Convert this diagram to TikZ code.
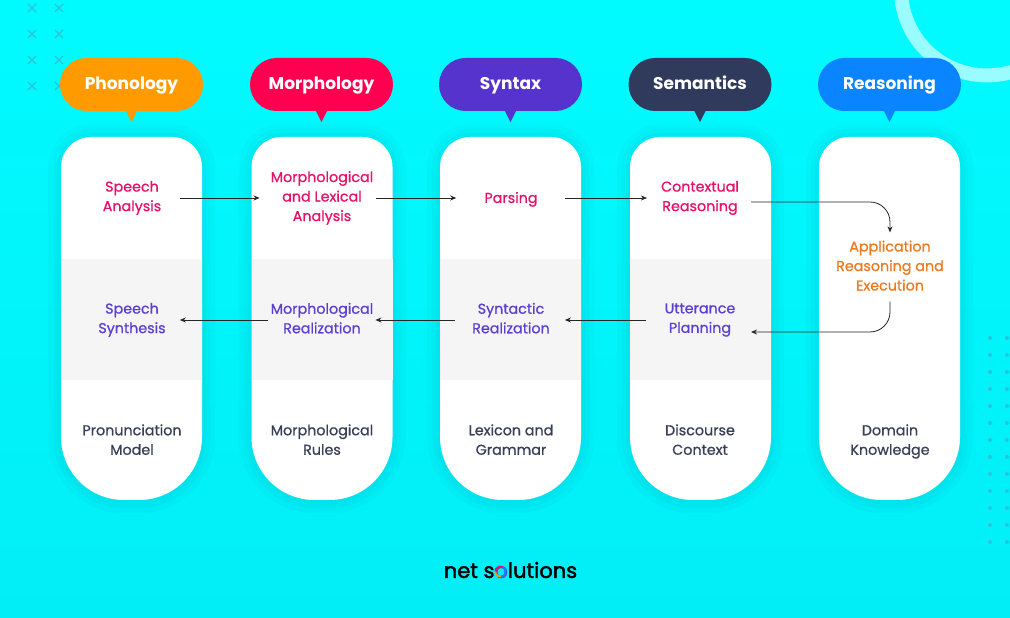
\documentclass[tikz,border=0pt]{standalone}
\usepackage{fontspec}
\setmainfont{Poppins}
\newfontfamily\stepfont{Poppins}[FakeBold=0.8]
\newfontfamily\logofont{Poppins}[FakeBold=2]
\usetikzlibrary{calc,arrows.meta}
\definecolor{bgtop}{HTML}{00FBFF}
\definecolor{bgbot}{HTML}{02EEF6}
\definecolor{marks}{HTML}{2CC3D6}
\definecolor{shadowc}{HTML}{00A5B5}
\definecolor{bandc}{HTML}{F5F5F5}
\definecolor{pinkc}{HTML}{E5126C}
\definecolor{purplec}{HTML}{5A3FD2}
\definecolor{orangec}{HTML}{EC7A1F}
\definecolor{darkc}{HTML}{3A3F58}
\definecolor{phonc}{HTML}{FF9B00}
\definecolor{morphc}{HTML}{FF0050}
\definecolor{syntc}{HTML}{5533CC}
\definecolor{semc}{HTML}{2F3A5C}
\definecolor{reasc}{HTML}{0A84FF}
\def\cardshape[#1](#2){\path[#1] (#2-70.5,451) arc (180:90:30) -- (#2+40.5,481) arc (90:0:30) -- (#2+70.5,181) arc (0:-90:63) -- (#2-7.5,118) arc (-90:-180:63) -- cycle;}
\def\card(#1){%
	\cardshape[draw=shadowc,opacity=.06,line width=26pt](#1)
	\cardshape[draw=shadowc,opacity=.06,line width=16pt](#1)
	\cardshape[draw=shadowc,opacity=.06,line width=8pt](#1)
	\cardshape[fill=white](#1)}
\tikzset{
	bubble/.style={rounded corners=26.5pt,minimum width=143pt,minimum height=53pt,inner sep=0pt,text=white,font=\fontsize{17}{20}\selectfont\bfseries,execute at begin node={\rule[-5pt]{0pt}{20pt}}},
	step1/.style={align=center,inner sep=0pt,font=\fontsize{14.3}{19.5}\stepfont,execute at begin node=\strut,execute at end node=\strut},
	flow/.style={draw=black!85,line width=.8pt,-{Stealth[length=6pt,width=5pt]}},
	xmark/.style={marks,line width=1.3pt},
}
\begin{document}
\begin{tikzpicture}[x=1pt,y=1pt]
		\useasboundingbox (0,0) rectangle (1010,618);
		%%%%% BACKGROUND %%%%%
		\shade[top color=bgtop,bottom color=bgbot] (0,0) rectangle (1010,618);
		\draw[white,opacity=.6,line width=14pt] (987,628.6) circle (86);
		\foreach \x in {32,59}
			\foreach \y in {610,584,558,532}
				\draw[xmark] (\x-4,\y-4) -- (\x+4,\y+4) (\x-4,\y+4) -- (\x+4,\y-4);
		\foreach \x in {990,1007}
			\foreach \y in {280,263,...,60}
				\fill[marks] (\x,\y) circle (2);
		
		%%%%% CARDS %%%%%
		\card(131.5)
		\card(322)
		\card(510.5)
		\card(700.5)
		\card(889.5)
		\fill[bandc] (61,238) rectangle (202,359);
		\fill[bandc] (251.5,238) rectangle (392.5,359);
		\fill[bandc] (440,238) rectangle (581,359);
		\fill[bandc] (630,238) rectangle (771,359);
		
		%%%%% HEADINGS %%%%%
		\node[bubble,fill=phonc] (phon) at (131.5,533.5) {Phonology};
		\fill[phonc] ($(phon.south)+(-6,1)$) -- ($(phon.south)+(6,1)$) -- ($(phon.south)+(0,-11)$) -- cycle;
		\node[bubble,fill=morphc] (morph) at (321.5,533.5) {Morphology};
		\fill[morphc] ($(morph.south)+(-6,1)$) -- ($(morph.south)+(6,1)$) -- ($(morph.south)+(0,-11)$) -- cycle;
		\node[bubble,fill=syntc] (synt) at (510.5,533.5) {Syntax};
		\fill[syntc] ($(synt.south)+(-6,1)$) -- ($(synt.south)+(6,1)$) -- ($(synt.south)+(0,-11)$) -- cycle;
		\node[bubble,fill=semc] (sem) at (700,533.5) {Semantics};
		\fill[semc] ($(sem.south)+(-6,1)$) -- ($(sem.south)+(6,1)$) -- ($(sem.south)+(0,-11)$) -- cycle;
		\node[bubble,fill=reasc] (reas) at (889.5,533.5) {Reasoning};
		\fill[reasc] ($(reas.south)+(-6,1)$) -- ($(reas.south)+(6,1)$) -- ($(reas.south)+(0,-11)$) -- cycle;
		
		%%%%% TOP ROW %%%%%
		\node[step1,text=pinkc] (speechan) at (132,419) {Speech\\Analysis};
		\node[step1,text=pinkc] (lexan) at (322,419) {Morphological\\and Lexical\\Analysis};
		\node[step1,text=pinkc] (parsing) at (511,419) {Parsing};
		\node[step1,text=pinkc] (context) at (700,419) {Contextual\\Reasoning};
		\node[step1,text=orangec] (appreas) at (890,349.5) {Application\\Reasoning and\\Execution};
		
		%%%%% MIDDLE ROW %%%%%
		\node[step1,text=purplec] (speechsyn) at (132,297) {Speech\\Synthesis};
		\node[step1,text=purplec] (morphreal) at (322,297) {Morphological\\Realization};
		\node[step1,text=purplec] (syntreal) at (511,297) {Syntactic\\Realization};
		\node[step1,text=purplec] (uttplan) at (700,297) {Utterance\\Planning};
		
		%%%%% BOTTOM ROW %%%%%
		\node[step1,text=darkc] (pron) at (132,175.5) {Pronunciation\\Model};
		\node[step1,text=darkc] (morphrules) at (322,175.5) {Morphological\\Rules};
		\node[step1,text=darkc] (lexgram) at (511,175.5) {Lexicon and\\Grammar};
		\node[step1,text=darkc] (discourse) at (700,175.5) {Discourse\\Context};
		\node[step1,text=darkc] (domain) at (890,175.5) {Domain\\Knowledge};
		
		%%%%% ARROWS %%%%%
		\draw[flow,shorten <=19pt,shorten >=11pt] ([yshift=1pt]speechan.east) -- ([yshift=1pt]lexan.west);
		\draw[flow,shorten <=3pt,shorten >=28pt] ([yshift=1pt]lexan.east) -- ([yshift=1pt]parsing.west);
		\draw[flow,shorten <=27pt,shorten >=14pt] ([yshift=1pt]parsing.east) -- ([yshift=1pt]context.west);
		\coordinate (contextout) at (751,416);
		\coordinate (uttin) at (751,286);
		\draw[flow,rounded corners=20pt,shorten >=8pt] (contextout) -| (appreas.north);
		\draw[flow,rounded corners=20pt,shorten <=5pt] (appreas.south) |- (uttin);
		\draw[flow,shorten <=18pt,shorten >=15pt] ([yshift=1pt]uttplan.west) -- ([yshift=1pt]syntreal.east);
		\draw[flow,shorten <=17pt,shorten >=2pt] ([yshift=1pt]syntreal.west) -- ([yshift=1pt]morphreal.east);
		\draw[flow,shorten <=3pt,shorten >=14pt] ([yshift=1pt]morphreal.west) -- ([yshift=1pt]speechsyn.east);
		
		%%%%% LOGO %%%%%
		\node[inner sep=0pt,font=\fontsize{21}{24}\logofont] (logo) at (510.5,48) {net s\textcolor{purplec}{o}lutions};
		\draw[pinkc,line width=1.8pt] (500.5,46.5) ++(60:5.2) arc (60:180:5.2);
		\draw[phonc,line width=1.8pt] (500.5,46.5) ++(180:5.2) arc (180:280:5.2);
		\draw[reasc,line width=1.8pt] (500.5,46.5) ++(280:5.2) arc (280:420:5.2);
\end{tikzpicture}
\end{document}
